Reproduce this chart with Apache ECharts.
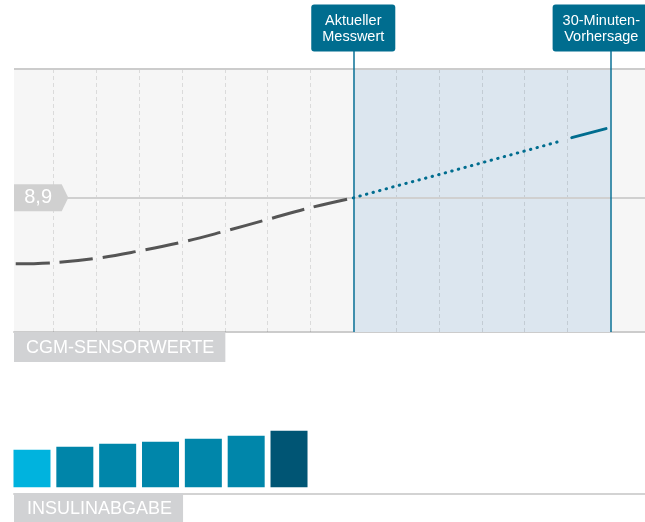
<!DOCTYPE html>
<html>
<head>
<meta charset="utf-8">
<script src="https://cdn.jsdelivr.net/npm/echarts@6/dist/echarts.min.js"></script>
<style>
html,body{margin:0;padding:0;background:#fff;}
#chart{width:645px;height:522px;}
</style>
</head>
<body>
<div id="chart"></div>
<script>
// ---- data (x in minutes relative to the current reading) ----
var cgmTimes   = [-39.4, -35, -30, -25, -20, -15, -10, -5, 0];
var cgmValues  = [6.49, 6.53, 6.69, 6.96, 7.28, 7.68, 8.11, 8.54, 8.9];
var forecastTimes  = [0, 5, 10, 15, 20, 24.4];
var forecastValues = [8.9, 9.33, 9.75, 10.18, 10.61, 10.99];
var forecastEndTimes  = [25.5, 29.5];
var forecastEndValues = [11.1, 11.43];
var currentValue = 8.9;
var currentLabel = '8,9';
var gridTimes = [-35, -30, -25, -20, -15, -10, -5, 5, 10, 15, 20, 25];
var markerTimes = [0, 30];
var markerLabels = ['Aktueller\nMesswert', '30-Minuten-\nVorhersage'];
var insulinTimes  = [-37.5, -32.5, -27.5, -22.5, -17.5, -12.5, -7.5];
var insulinValues = [0.75, 0.81, 0.87, 0.91, 0.97, 1.03, 1.13];
var sectionLabels = ['CGM-SENSORWERTE', 'INSULINABGABE'];

// ---- styles ----
var FONT = '"Liberation Sans", Arial, Helvetica, sans-serif';
var BLUE = '#006d8f';
var barColors = ['#00b3de', '#0085a9', '#0086aa', '#0086aa', '#0086aa', '#0086aa', '#005574'];
var X_MIN = -39.6, X_MAX = 34.05;
var Y_MIN = 4, Y_TOP = 13.6, Y_MAX = 14.3;

function pairs(xs, ys) { return xs.map(function (x, i) { return [x, ys[i]]; }); }

var chart = echarts.init(document.getElementById('chart'), null, {renderer: 'canvas'});

var option = {
  animation: false,
  grid: [
    {left: 14, right: 0, top: 50, bottom: 190, containLabel: false},
    {left: 14, right: 0, top: 423.7, bottom: 28.3, containLabel: false}
  ],
  xAxis: [
    {type: 'value', gridIndex: 0, min: X_MIN, max: X_MAX,
     axisLine: {show: true, onZero: false, lineStyle: {color: '#cccccc', width: 2}},
     axisTick: {show: false}, axisLabel: {show: false}, splitLine: {show: false}},
    {type: 'value', gridIndex: 1, min: X_MIN, max: X_MAX,
     axisLine: {show: true, onZero: false, lineStyle: {color: '#d3d3d3', width: 2}},
     axisTick: {show: false}, axisLabel: {show: false}, splitLine: {show: false}}
  ],
  yAxis: [
    {type: 'value', gridIndex: 0, min: Y_MIN, max: Y_MAX, show: false},
    {type: 'value', gridIndex: 1, min: -0.128, max: 1.272, show: false}
  ],
  series: [
    { // plot background
      type: 'line', xAxisIndex: 0, yAxisIndex: 0, data: [], z: 0, silent: true,
      markArea: {silent: true, z: 0,
        itemStyle: {color: '#f6f6f6'},
        data: [[{yAxis: Y_MIN}, {yAxis: Y_TOP}]]}
    },
    { // forecast window shading + grid lines
      type: 'line', xAxisIndex: 0, yAxisIndex: 0, data: [], z: 1, silent: true,
      markArea: {silent: true, z: 1,
        itemStyle: {color: '#dce6ef'},
        data: [[{xAxis: markerTimes[0], yAxis: Y_MIN}, {xAxis: markerTimes[1], yAxis: Y_TOP}]]},
      markLine: {silent: true, z: 2, symbol: 'none', label: {show: false},
        lineStyle: {color: 'rgba(0,0,0,0.11)', width: 1, type: [4, 3]},
        data: gridTimes.map(function (t) { return [{coord: [t, Y_MIN]}, {coord: [t, Y_TOP]}]; })}
    },
    { // horizontal reference lines
      type: 'line', xAxisIndex: 0, yAxisIndex: 0, data: [], z: 2, silent: true,
      markLine: {silent: true, z: 3, symbol: 'none', label: {show: false},
        data: [
          {yAxis: Y_TOP, lineStyle: {color: '#cccccc', width: 2, type: 'solid'}},
          {yAxis: currentValue, lineStyle: {color: '#d0d0d0', width: 2, type: 'solid'}}
        ]}
    },
    { // CGM history
      type: 'line', xAxisIndex: 0, yAxisIndex: 0, z: 4, silent: true,
      data: pairs(cgmTimes, cgmValues), smooth: 0.4, showSymbol: false,
      lineStyle: {color: '#555555', width: 3, type: [34, 9.5], cap: 'butt'}
    },
    { // forecast dotted
      type: 'line', xAxisIndex: 0, yAxisIndex: 0, z: 4, silent: true,
      data: pairs(forecastTimes, forecastValues), showSymbol: false,
      lineStyle: {color: BLUE, width: 3, type: [0.5, 6.3], cap: 'round'}
    },
    { // forecast end
      type: 'line', xAxisIndex: 0, yAxisIndex: 0, z: 4, silent: true,
      data: pairs(forecastEndTimes, forecastEndValues), showSymbol: false,
      lineStyle: {color: BLUE, width: 3, type: 'solid', cap: 'round'}
    },
    { // marker lines, header boxes and current-value tag
      type: 'line', xAxisIndex: 0, yAxisIndex: 0, data: [], z: 5, silent: true,
      markLine: {silent: true, z: 5, symbol: 'none', label: {show: false},
        lineStyle: {color: '#0a7196', width: 1.5, type: 'solid'},
        data: markerTimes.map(function (t) { return [{coord: [t, Y_MIN]}, {coord: [t, Y_MAX]}]; })},
      markPoint: {silent: true, z: 6,
        data: [
          {coord: [markerTimes[0], Y_MAX], symbol: 'circle', symbolSize: 1,
           itemStyle: {color: 'rgba(0,0,0,0)'},
           label: {show: true, position: 'top', distance: -2, formatter: markerLabels[0],
             color: '#ffffff', fontFamily: FONT, fontSize: 14.5, lineHeight: 16,
             backgroundColor: BLUE, borderRadius: 3, padding: [8, 11, 7, 11], align: 'center'}},
          {coord: [markerTimes[1], Y_MAX], symbol: 'circle', symbolSize: 1,
           itemStyle: {color: 'rgba(0,0,0,0)'},
           label: {show: true, position: 'top', distance: -2, offset: [-9, 0], formatter: markerLabels[1],
             color: '#ffffff', fontFamily: FONT, fontSize: 14.5, lineHeight: 16,
             backgroundColor: BLUE, borderRadius: 3, padding: [8, 10, 7, 10], align: 'center'}},
          {coord: [X_MIN, currentValue],
           symbol: 'path://M0,0L47.7,0L54.3,13.5L47.7,27L0,27Z',
           symbolSize: [54.3, 27], symbolOffset: [27.15, 0],
           itemStyle: {color: '#d0d0d0'},
           label: {show: true, position: 'inside', offset: [-3, 0], formatter: currentLabel,
             color: '#ffffff', fontFamily: FONT, fontSize: 20}}
        ]}
    },
    { // insulin bars
      type: 'bar', xAxisIndex: 1, yAxisIndex: 1, silent: true,
      data: pairs(insulinTimes, insulinValues), barWidth: 37,
      itemStyle: {color: function (p) { return barColors[p.dataIndex]; }}
    }
  ],
  graphic: [
    {type: 'text', left: 14, top: 332, z: 10, silent: true,
     style: {text: sectionLabels[0], fill: '#ffffff', fontFamily: FONT, fontSize: 18,
       lineHeight: 20, backgroundColor: '#d1d2d4', padding: [6, 11, 4, 12]}},
    {type: 'text', left: 14, top: 493.3, z: 10, silent: true,
     style: {text: sectionLabels[1], fill: '#ffffff', fontFamily: FONT, fontSize: 18,
       lineHeight: 20, backgroundColor: '#d1d2d4', padding: [6, 11, 6, 13]}}
  ]
};
chart.setOption(option);
</script>
</body>
</html>
